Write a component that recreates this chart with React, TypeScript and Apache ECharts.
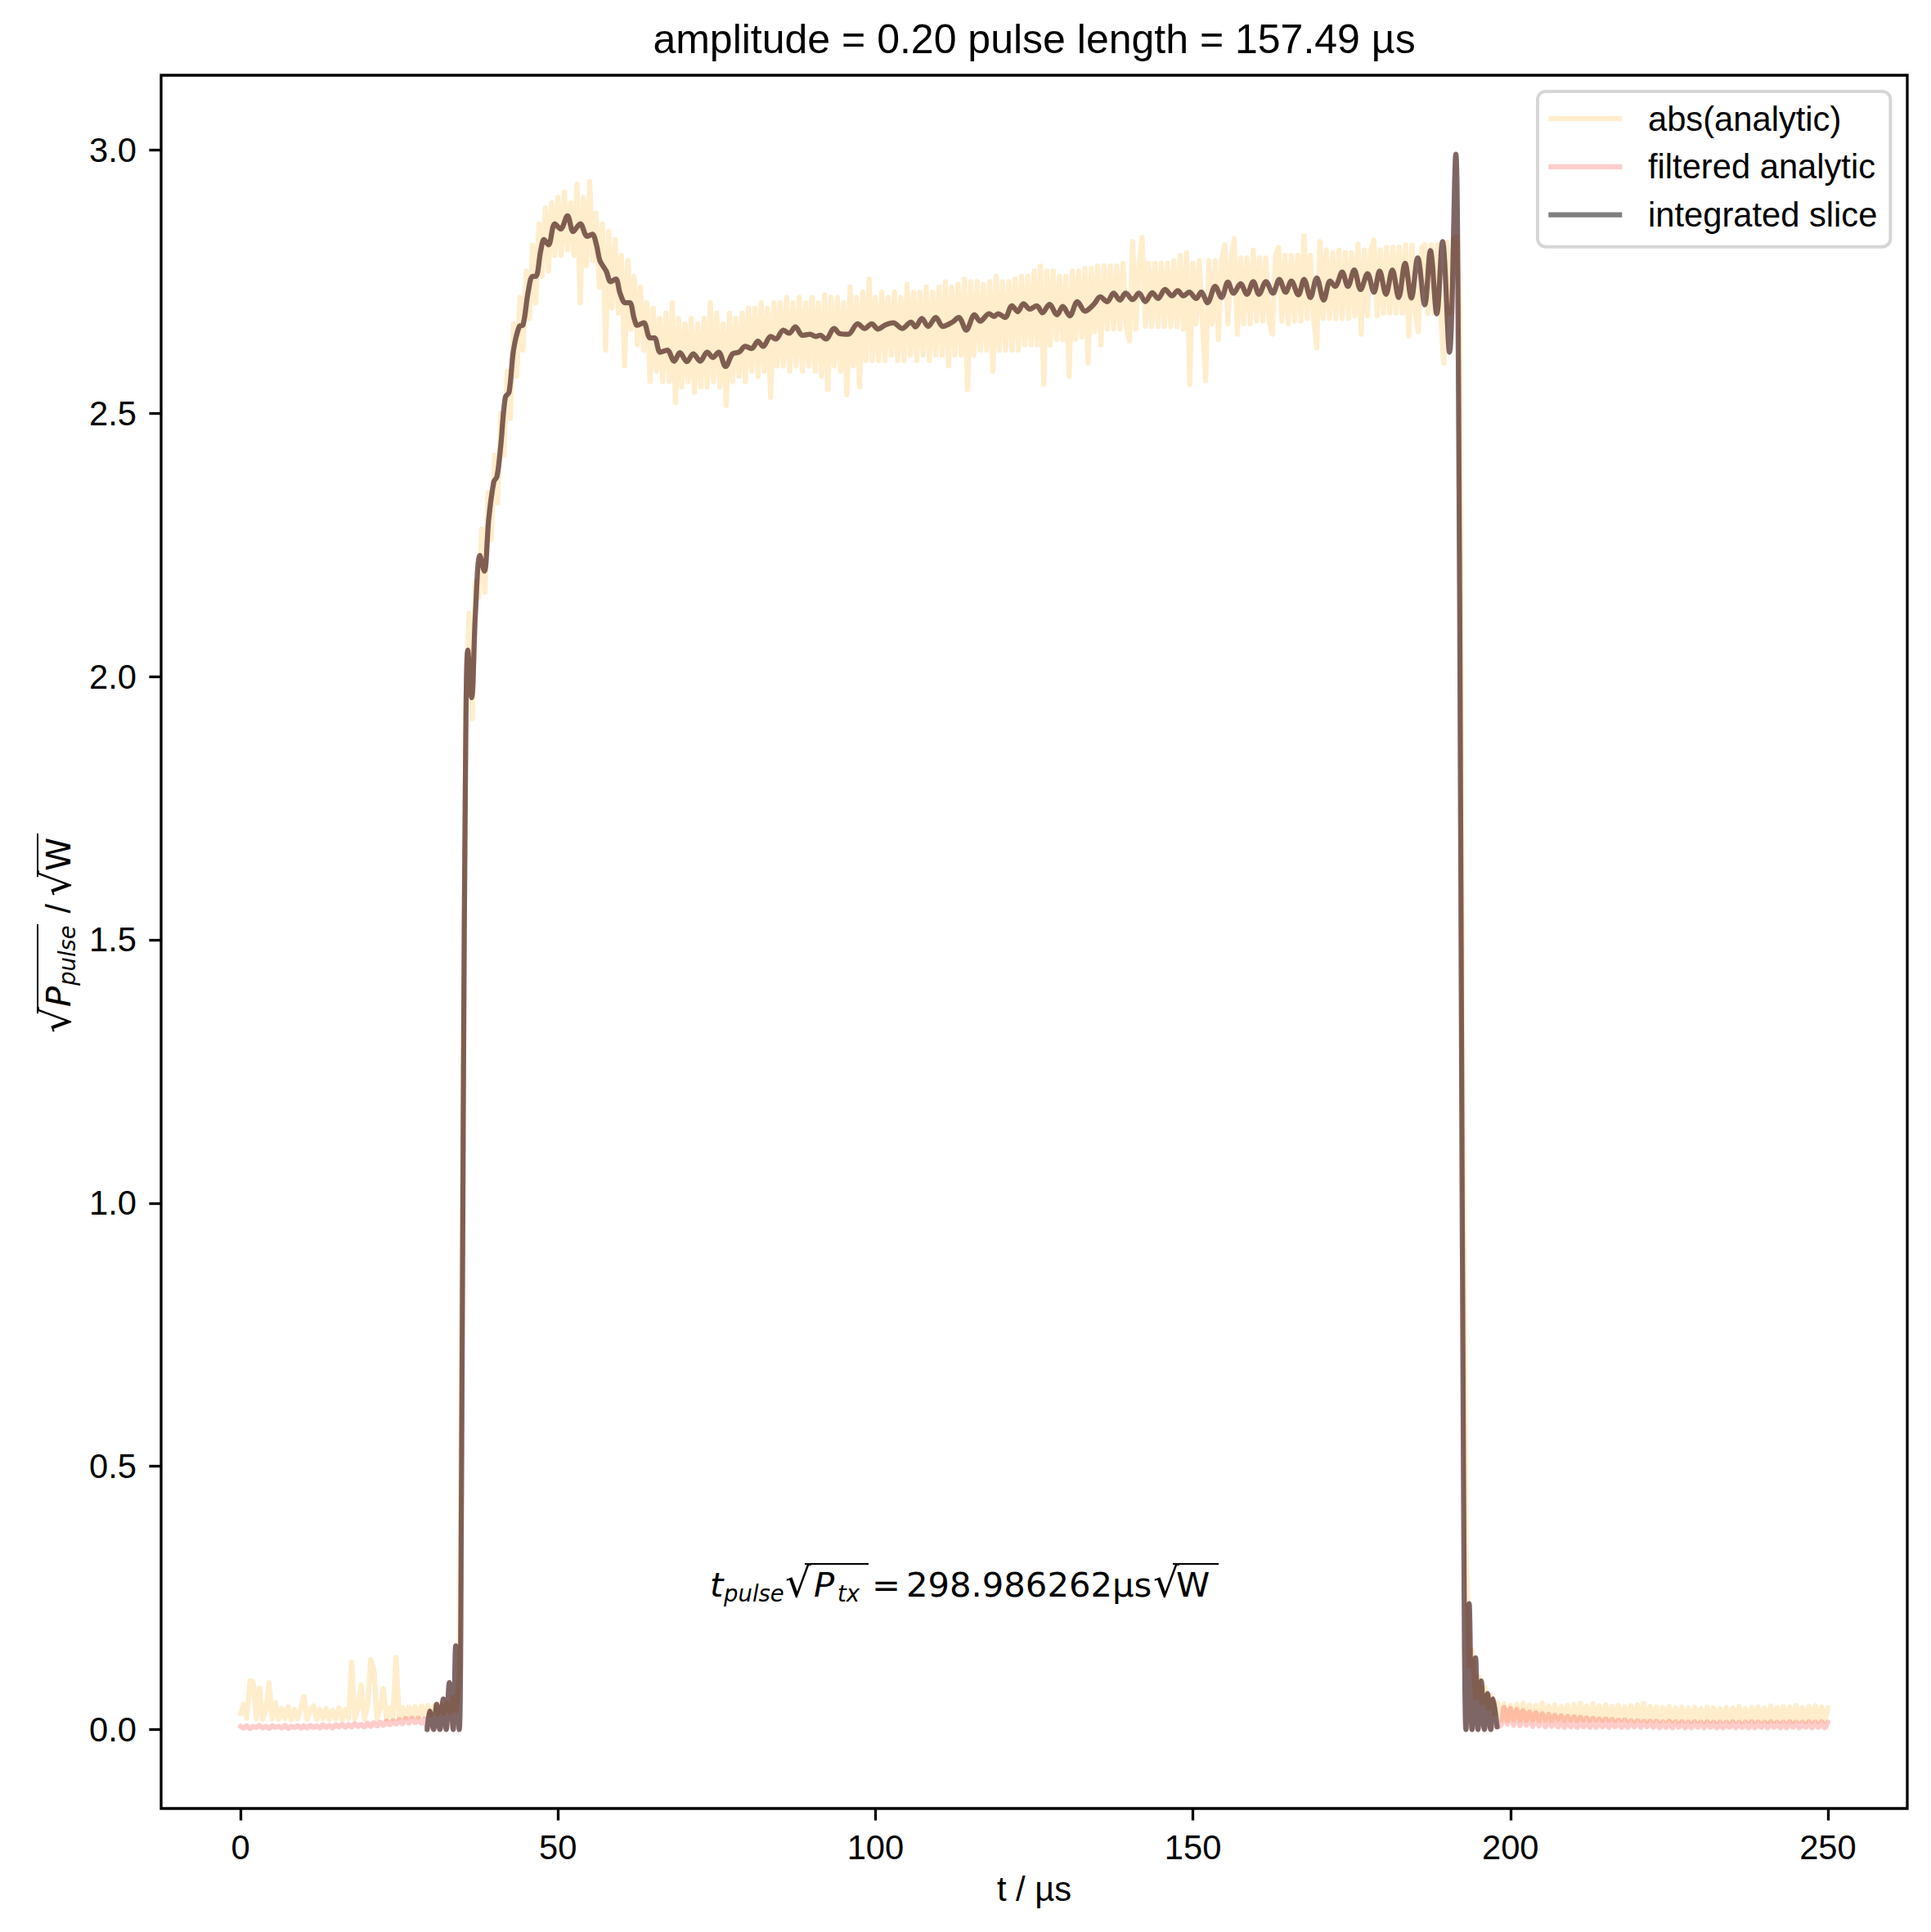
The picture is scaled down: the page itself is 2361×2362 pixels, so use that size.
import React, { useEffect, useRef } from "react";
import * as echarts from "echarts";

// ---------------- data ----------------
const X_TICKS = [0, 50, 100, 150, 200, 250];
const Y_TICKS = [0, 0.5, 1.0, 1.5, 2.0, 2.5, 3.0];
const SERIES_NAMES = ["abs(analytic)", "filtered analytic", "integrated slice"];
const TITLE = "amplitude = 0.20 pulse length = 157.49 µs";
const X_LABEL = "t / µs";
const RESULT_TEXT = "298.986262µs";

// abs(analytic): one sample every 0.5 µs from t = 0 to 250 µs
const ABS_START = 0;
const ABS_STEP = 0.5;
const absValues = [
  0.030, 0.048, 0.021, 0.093, 0.090, 0.020, 0.079, 0.019, 0.038, 0.089,
  0.020, 0.051, 0.019, 0.040, 0.021, 0.043, 0.019, 0.038, 0.020, 0.041,
  0.063, 0.019, 0.039, 0.045, 0.019, 0.038, 0.021, 0.040, 0.019, 0.037,
  0.020, 0.041, 0.019, 0.038, 0.021, 0.128, 0.020, 0.040, 0.085, 0.020,
  0.042, 0.133, 0.115, 0.021, 0.039, 0.078, 0.020, 0.041, 0.021, 0.137,
  0.022, 0.042, 0.022, 0.043, 0.024, 0.044, 0.024, 0.045, 0.026, 0.046,
  0.027, 0.046, 0.029, 0.048, 0.030, 0.050, 0.032, 0.061, 0.036, 0.110,
  1.10, 1.95, 2.12, 1.92, 2.18, 2.15, 2.28, 2.16, 2.35, 2.26,
  2.42, 2.33, 2.50, 2.42, 2.58, 2.49, 2.67, 2.57, 2.72, 2.62,
  2.77, 2.68, 2.82, 2.71, 2.86, 2.76, 2.89, 2.77, 2.90, 2.80,
  2.91, 2.80, 2.92, 2.81, 2.90, 2.80, 2.935, 2.71, 2.91, 2.78,
  2.94, 2.79, 2.88, 2.74, 2.86, 2.62, 2.845, 2.70, 2.83, 2.69,
  2.80, 2.59, 2.79, 2.66, 2.76, 2.63, 2.74, 2.62, 2.71, 2.56,
  2.70, 2.58, 2.68, 2.56, 2.69, 2.56, 2.71, 2.52, 2.68, 2.55,
  2.67, 2.56, 2.68, 2.54, 2.67, 2.55, 2.68, 2.55, 2.71, 2.56,
  2.69, 2.55, 2.67, 2.515, 2.69, 2.56, 2.68, 2.57, 2.69, 2.56,
  2.70, 2.58, 2.70, 2.57, 2.71, 2.58, 2.70, 2.53, 2.71, 2.59,
  2.71, 2.59, 2.72, 2.58, 2.71, 2.59, 2.72, 2.58, 2.71, 2.59,
  2.72, 2.58, 2.71, 2.57, 2.725, 2.545, 2.72, 2.59, 2.72, 2.58,
  2.71, 2.535, 2.74, 2.59, 2.72, 2.55, 2.73, 2.60, 2.755, 2.60,
  2.72, 2.60, 2.73, 2.60, 2.72, 2.61, 2.73, 2.60, 2.72, 2.60,
  2.745, 2.61, 2.73, 2.60, 2.73, 2.61, 2.74, 2.60, 2.73, 2.61,
  2.74, 2.61, 2.75, 2.59, 2.74, 2.61, 2.745, 2.61, 2.755, 2.545,
  2.75, 2.61, 2.75, 2.62, 2.745, 2.62, 2.75, 2.58, 2.76, 2.62,
  2.75, 2.62, 2.75, 2.62, 2.755, 2.62, 2.76, 2.63, 2.76, 2.63,
  2.77, 2.63, 2.78, 2.555, 2.77, 2.63, 2.77, 2.64, 2.76, 2.64,
  2.76, 2.57, 2.77, 2.64, 2.77, 2.645, 2.775, 2.596, 2.775, 2.655,
  2.78, 2.63, 2.78, 2.66, 2.78, 2.66, 2.78, 2.66, 2.785, 2.665,
  2.637, 2.826, 2.66, 2.78, 2.834, 2.665, 2.785, 2.665, 2.785, 2.665,
  2.785, 2.665, 2.785, 2.665, 2.79, 2.665, 2.80, 2.66, 2.805, 2.555,
  2.785, 2.67, 2.79, 2.67, 2.562, 2.79, 2.67, 2.79, 2.64, 2.79,
  2.82, 2.67, 2.79, 2.832, 2.65, 2.795, 2.67, 2.795, 2.67, 2.81,
  2.675, 2.795, 2.675, 2.795, 2.675, 2.65, 2.80, 2.815, 2.675, 2.80,
  2.67, 2.80, 2.675, 2.80, 2.675, 2.837, 2.68, 2.80, 2.68, 2.624,
  2.826, 2.68, 2.81, 2.68, 2.805, 2.68, 2.81, 2.68, 2.805, 2.68,
  2.805, 2.685, 2.821, 2.65, 2.81, 2.685, 2.81, 2.829, 2.685, 2.81,
  2.69, 2.815, 2.69, 2.815, 2.69, 2.815, 2.69, 2.82, 2.647, 2.82,
  2.69, 2.655, 2.815, 2.82, 2.69, 2.82, 2.69, 2.82, 2.69, 2.595,
  2.825, 2.69, 2.83, 2.835, 2.70, 1.20, 0.36, 0.12, 0.15, 0.06,
  0.10, 0.05, 0.08, 0.04, 0.065, 0.03, 0.05,
  0.018, 0.049, 0.017, 0.046, 0.019, 0.048, 0.018, 0.050, 0.017, 0.047,
  0.018, 0.046, 0.017, 0.050, 0.018, 0.045, 0.017, 0.047, 0.019, 0.044,
  0.017, 0.046, 0.018, 0.048, 0.017, 0.050, 0.018, 0.045, 0.017, 0.049,
  0.018, 0.045, 0.017, 0.047, 0.018, 0.044, 0.017, 0.046, 0.018, 0.043,
  0.017, 0.045, 0.016, 0.047, 0.017, 0.050, 0.016, 0.044, 0.017, 0.043,
  0.016, 0.042, 0.017, 0.044, 0.016, 0.041, 0.015, 0.043, 0.016, 0.041,
  0.015, 0.042, 0.016, 0.040, 0.015, 0.043, 0.016, 0.041, 0.015, 0.040,
  0.016, 0.042, 0.015, 0.041, 0.016, 0.044, 0.015, 0.040, 0.016, 0.042,
  0.015, 0.043, 0.016, 0.041, 0.015, 0.045, 0.016, 0.042, 0.015, 0.044,
  0.016, 0.043, 0.015, 0.046, 0.016, 0.042, 0.015, 0.044, 0.016, 0.045,
  0.015, 0.043, 0.016, 0.042,
];

// filtered analytic outside the pulse (inside the pulse it lies under the integrated slice)
const FILT_STEP = 0.5;
const FILT_LEAD_START = 0;
const filteredLead = [
  0.006, 0.003, 0.007, 0.002, 0.006, 0.004, 0.008, 0.003, 0.006, 0.002,
  0.007, 0.004, 0.006, 0.003, 0.008, 0.002, 0.006, 0.004, 0.007, 0.003,
  0.007, 0.003, 0.008, 0.004, 0.007, 0.003, 0.009, 0.004, 0.008, 0.003,
  0.009, 0.005, 0.010, 0.004, 0.009, 0.005, 0.011, 0.006, 0.010, 0.005,
  0.012, 0.006, 0.013, 0.007, 0.014, 0.008, 0.016, 0.009, 0.017, 0.010,
  0.019, 0.011, 0.021, 0.012, 0.022, 0.013, 0.022, 0.012, 0.020,
];
const FILT_TAIL_START = 198.5;
const filteredTail = [
  0.008, 0.042, 0.010, 0.040, 0.008, 0.038, 0.007, 0.036, 0.008, 0.033,
  0.006, 0.032, 0.007, 0.030, 0.005, 0.029, 0.006, 0.027, 0.005, 0.026,
  0.004, 0.025, 0.005, 0.024, 0.004, 0.023, 0.005, 0.022, 0.004, 0.021,
  0.004, 0.020, 0.005, 0.020, 0.004, 0.019, 0.005, 0.018, 0.004, 0.018,
  0.004, 0.017, 0.005, 0.017, 0.004, 0.016, 0.005, 0.016, 0.004, 0.016,
  0.003, 0.015, 0.004, 0.016, 0.003, 0.015, 0.004, 0.015, 0.003, 0.014,
  0.003, 0.015, 0.004, 0.014, 0.003, 0.015, 0.004, 0.014, 0.003, 0.014,
  0.003, 0.014, 0.004, 0.015, 0.003, 0.014, 0.004, 0.014, 0.003, 0.015,
  0.003, 0.014, 0.004, 0.014, 0.003, 0.015, 0.004, 0.014, 0.003, 0.014,
  0.003, 0.015, 0.004, 0.014, 0.003, 0.014, 0.004, 0.015, 0.003, 0.014,
  0.004, 0.015, 0.003, 0.014,
];

// integrated slice: times (µs) and values
const integT = [
  29.4, 29.8, 30.4, 30.9, 31.4, 31.95, 32.4, 32.9, 33.5, 33.9,
  34.45, 34.8, 35.1, 35.45, 35.8, 36.4, 37.0, 37.7, 38.4, 39.1,
  39.9, 40.4, 41.0, 41.7, 42.3, 43.0, 43.9, 44.5, 45.3, 46.0,
  46.5, 47.3, 47.8, 48.5, 49.5, 50.4, 51.5, 52.4, 53.5, 54.6,
  55.4, 56.1, 56.6, 57.6, 58.3, 59.1, 59.8, 60.6, 61.3, 62.0,
  62.5, 63.5, 64.5, 65.2, 66.1, 67.2, 68.3, 69.2, 70.3, 71.3,
  72.4, 73.5, 74.4, 75.3, 76.4, 77.5, 78.5, 79.5, 80.5, 81.5,
  82.3, 83.5, 84.3, 85.5, 86.4, 87.4, 88.5, 89.7, 90.6, 91.3,
  92.2, 93.5, 94.4, 95.7, 97.2, 98.3, 99.4, 100.4, 101.6, 102.8,
  104.2, 105.6, 106.3, 107.3, 108.3, 109.5, 110.6, 112.1, 113.1, 114.3,
  115.6, 116.5, 117.9, 118.7, 119.3, 120.4, 121.5, 122.4, 123.3, 124.3,
  125.4, 126.3, 127.4, 128.6, 129.5, 130.6, 131.8, 133.0, 134.4, 135.4,
  136.5, 137.5, 138.5, 139.4, 140.5, 141.5, 142.5, 143.6, 144.5, 145.6,
  146.7, 147.6, 148.5, 149.4, 150.5, 151.3, 152.3, 153.5, 154.5, 155.5,
  156.4, 157.5, 158.5, 159.5, 160.4, 161.5, 162.6, 163.6, 164.6, 165.5,
  166.6, 167.5, 168.5, 169.5, 170.6, 171.6, 172.4, 173.5, 174.4, 175.4,
  176.4, 177.5, 178.5, 179.4, 180.4, 181.4, 182.4, 183.4, 184.4, 185.4,
  186.5, 187.4, 188.4, 189.3, 190.4, 191.4, 191.8, 192.2, 192.6, 193.0,
  193.5, 193.95, 194.5, 194.9, 195.4, 195.9, 196.4, 196.9, 197.3, 197.9,
];
const integV = [
  0.000, 0.035, 0.000, 0.048, 0.000, 0.058, 0.000, 0.089, 0.000, 0.159,
  0.000, 0.45, 1.20, 1.85, 2.05, 1.96, 2.12, 2.23, 2.20, 2.30,
  2.37, 2.38, 2.44, 2.53, 2.54, 2.62, 2.665, 2.668, 2.73, 2.76,
  2.76, 2.81, 2.83, 2.82, 2.86, 2.85, 2.875, 2.845, 2.86, 2.836,
  2.84, 2.818, 2.79, 2.77, 2.75, 2.755, 2.727, 2.71, 2.71, 2.68,
  2.667, 2.672, 2.643, 2.643, 2.616, 2.62, 2.599, 2.615, 2.598, 2.613,
  2.599, 2.616, 2.606, 2.616, 2.589, 2.613, 2.616, 2.627, 2.623, 2.637,
  2.627, 2.646, 2.641, 2.658, 2.652, 2.664, 2.648, 2.650, 2.646, 2.648,
  2.641, 2.661, 2.651, 2.650, 2.670, 2.661, 2.670, 2.660, 2.668, 2.672,
  2.661, 2.673, 2.664, 2.680, 2.665, 2.682, 2.665, 2.673, 2.682, 2.658,
  2.687, 2.675, 2.689, 2.684, 2.689, 2.682, 2.704, 2.693, 2.708, 2.698,
  2.704, 2.691, 2.707, 2.687, 2.703, 2.685, 2.712, 2.694, 2.707, 2.721,
  2.712, 2.728, 2.715, 2.728, 2.716, 2.728, 2.712, 2.729, 2.718, 2.735,
  2.723, 2.733, 2.723, 2.730, 2.718, 2.730, 2.710, 2.741, 2.720, 2.749,
  2.728, 2.746, 2.726, 2.750, 2.726, 2.750, 2.728, 2.754, 2.730, 2.751,
  2.725, 2.754, 2.720, 2.757, 2.715, 2.751, 2.741, 2.768, 2.741, 2.772,
  2.735, 2.765, 2.730, 2.770, 2.726, 2.772, 2.720, 2.785, 2.719, 2.795,
  2.706, 2.809, 2.689, 2.826, 2.616, 2.992, 2.60, 1.60, 0.50, 0.000,
  0.239, 0.000, 0.136, 0.000, 0.092, 0.000, 0.068, 0.000, 0.058, 0.005,
];

// ---------------- styling constants ----------------
const W = 2361;
const H = 2362;
const GRID = { left: 197, top: 92, width: 2135, height: 2119 };
const SANS = "Liberation Sans, Arial, sans-serif";
const MATH = "DejaVu Sans";
const FS = 41.7;
const FS_SUB = 27.5;
const C_ABS = "rgba(255,165,0,0.2)";
const C_FILT = "rgba(255,0,0,0.2)";
const C_INT = "rgba(0,0,0,0.5)";

// y for a text drawn with verticalAlign middle whose baseline must sit at `base`
const mid = (base: number, fs: number) => base - 0.3465 * fs;

function txt(text: string, x: number, base: number, fs: number, family: string, italic = false, align = "left") {
  return {
    type: "text",
    x,
    y: mid(base, fs),
    silent: true,
    style: {
      text,
      fill: "#000",
      fontSize: fs,
      fontFamily: family,
      fontStyle: italic ? "italic" : "normal",
      align,
      textAlign: align,
      verticalAlign: "middle",
      textVerticalAlign: "middle",
    },
  };
}
function bar(x1: number, x2: number, y: number) {
  return { type: "line", silent: true, shape: { x1, y1: y, x2, y2: y }, style: { stroke: "#000", lineWidth: 2 } };
}

function buildOption() {
  const absData = absValues.map((v, i) => [ABS_START + i * ABS_STEP, v]);
  const integData = integT.map((t, i) => [t, integV[i]]);
  const filteredData = [
    ...filteredLead.map((v, i) => [FILT_LEAD_START + i * FILT_STEP, v]),
    ...integData,
    ...filteredTail.map((v, i) => [FILT_TAIL_START + i * FILT_STEP, v]),
  ];

  const lineSeries = (name: string, data: number[][], color: string, smooth: number | boolean) => ({
    name,
    type: "line",
    data,
    symbol: "none",
    showSymbol: false,
    smooth,
    color,
    itemStyle: { color },
    lineStyle: { color, width: 6.25, cap: "round", join: "round" },
    silent: true,
    emphasis: { disabled: true },
    z: 2,
  });

  const B = 1952; // baseline of the annotation
  const SB = 1958; // subscript baseline
  const annotation = [
    txt("t", 868, B, FS, MATH, true),
    txt("pulse", 885, SB, FS_SUB, MATH, true),
    txt("√", 960, B, 50, MATH),
    bar(984, 1062, 1912),
    txt("P", 995, B, FS, MATH, true),
    txt("tx", 1024, SB, FS_SUB, MATH, true),
    txt("=", 1066, B, FS, MATH),
    txt(RESULT_TEXT, 1108, B, FS, MATH),
    txt("√", 1410, B, 50, MATH),
    bar(1434, 1490, 1912),
    txt("W", 1438, B, FS, MATH),
  ];

  const yLabel = {
    type: "group",
    x: 86,
    y: 1263,
    rotation: Math.PI / 2,
    children: [
      txt("√", 0, 0, 50, MATH),
      bar(24, 133, -40),
      txt("P", 32, 0, FS, MATH, true),
      txt("pulse", 58, 6, FS_SUB, MATH, true),
      txt("/", 146.6, 0, FS, SANS),
      txt("√", 167, 0, 50, MATH),
      bar(191, 244, -40),
      txt("W", 198, 0, FS, MATH),
    ],
  };

  return {
    animation: false,
    backgroundColor: "#ffffff",
    grid: {
      ...GRID,
      show: true,
      borderColor: "#000",
      borderWidth: 3.3,
      backgroundColor: "transparent",
      containLabel: false,
    },
    xAxis: {
      type: "value",
      min: -12.5,
      max: 262.5,
      axisLine: { show: false, onZero: false },
      splitLine: { show: false },
      axisTick: { show: true, length: 14.6, lineStyle: { color: "#000", width: 3.3 }, customValues: X_TICKS },
      axisLabel: {
        customValues: X_TICKS,
        margin: 26,
        fontFamily: SANS,
        fontSize: FS,
        color: "#000",
        formatter: (v: number) => String(v),
      },
    },
    yAxis: {
      type: "value",
      min: -0.15,
      max: 3.142,
      axisLine: { show: false, onZero: false },
      splitLine: { show: false },
      axisTick: { show: true, length: 14.6, lineStyle: { color: "#000", width: 3.3 }, customValues: Y_TICKS },
      axisLabel: {
        customValues: Y_TICKS,
        margin: 30,
        fontFamily: SANS,
        fontSize: FS,
        color: "#000",
        formatter: (v: number) => v.toFixed(1),
      },
    },
    legend: {
      data: SERIES_NAMES.map((name) => ({ name, icon: "rect" })),
      orient: "vertical",
      left: 1880,
      top: 111.7,
      padding: [10.3, 16, 16, 13.3],
      itemWidth: 90,
      itemHeight: 6.25,
      itemGap: 12.85,
      itemStyle: { borderWidth: 0 },
      selectedMode: false,
      textStyle: { fontFamily: SANS, fontSize: FS, color: "#000", lineHeight: 46, padding: [0, 0, 0, 26.7] },
      backgroundColor: "rgba(255,255,255,0.8)",
      borderColor: "rgba(204,204,204,0.8)",
      borderWidth: 4,
      borderRadius: 10,
    },
    series: [
      lineSeries(SERIES_NAMES[0], absData, C_ABS, false),
      lineSeries(SERIES_NAMES[1], filteredData, C_FILT, 0.35),
      lineSeries(SERIES_NAMES[2], integData, C_INT, 0.35),
    ],
    graphic: {
      elements: [
        txt(TITLE, 1264.5, 65.5, 50, SANS, false, "center"),
        txt(X_LABEL, 1264.5, 2324, FS, SANS, false, "center"),
        yLabel,
        ...annotation,
      ],
    },
  };
}

export default function App() {
  const ref = useRef<HTMLDivElement>(null);
  useEffect(() => {
    document.body.style.margin = "0";
    const chart = echarts.init(ref.current as HTMLDivElement, null, { renderer: "svg" });
    chart.setOption(buildOption() as any);
    return () => chart.dispose();
  }, []);
  return <div ref={ref} style={{ width: W, height: H }} />;
}
